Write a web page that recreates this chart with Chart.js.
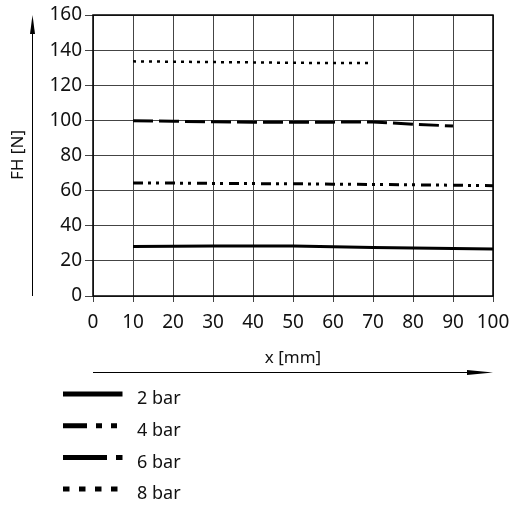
<!DOCTYPE html>
<html>
<head>
<meta charset="utf-8">
<script src="https://cdn.jsdelivr.net/npm/chart.js@4.4.0/dist/chart.umd.min.js"></script>
<style>
  html, body { margin: 0; padding: 0; background: #fff; }
  #wrap { width: 516px; height: 507px; position: relative; }
</style>
</head>
<body>
<div id="wrap"><canvas id="chart" width="516" height="507"></canvas></div>
<script>
// Data
const xValues = [10, 20, 30, 40, 50, 60, 70, 80, 90, 100];
const bar2 = [28.2, 28.3, 28.4, 28.4, 28.4, 28.0, 27.6, 27.3, 27.0, 26.7];
const bar4 = [64.4, 64.3, 64.1, 64.0, 63.9, 63.7, 63.5, 63.3, 63.1, 62.8];
const bar6 = [99.8, 99.5, 99.2, 99.0, 98.9, 99.0, 99.1, 97.8, 96.8];
const bar8 = [133.6, 133.4, 133.2, 133.0, 132.8, 132.6, 132.6];
const seriesLabels = ['2 bar', '4 bar', '6 bar', '8 bar'];
const xTitle = 'x [mm]';
const yTitle = 'FH [N]';

const FONT = "'Noto Sans', sans-serif";

function toPoints(values) {
  return values.map((v, i) => ({ x: xValues[i], y: v }));
}

// line styles per series (chart + legend)
const styles = [
  { dash: [], width: 3, legendDash: [] },
  { dash: [10, 5, 3, 5, 3, 6], width: 3, legendDash: [24, 9, 6, 9, 6, 30] },
  { dash: [20, 6], width: 3, legendDash: [44, 9, 7, 30] },
  { dash: [3, 5], width: 2.5, legendDash: [6.5, 9.5] }
];

// frame, arrows, titles and legend
const decorPlugin = {
  id: 'decor',
  afterDraw(chart) {
    const ctx = chart.ctx;
    const a = chart.chartArea;
    ctx.save();

    // frame
    ctx.strokeStyle = '#000';
    ctx.lineWidth = 1.5;
    ctx.strokeRect(a.left, a.top, a.right - a.left, a.bottom - a.top);

    // vertical arrow
    ctx.lineWidth = 1;
    ctx.beginPath();
    ctx.moveTo(32.5, a.bottom);
    ctx.lineTo(32.5, 28);
    ctx.stroke();
    ctx.fillStyle = '#000';
    ctx.beginPath();
    ctx.moveTo(32.5, 15);
    ctx.lineTo(30, 34);
    ctx.lineTo(35, 34);
    ctx.closePath();
    ctx.fill();

    // horizontal arrow
    ctx.beginPath();
    ctx.moveTo(a.left, 372.5);
    ctx.lineTo(480, 372.5);
    ctx.stroke();
    ctx.beginPath();
    ctx.moveTo(493, 372.5);
    ctx.lineTo(467, 370);
    ctx.lineTo(467, 375);
    ctx.closePath();
    ctx.fill();

    // axis titles
    ctx.fillStyle = '#111';
    ctx.font = '17px ' + FONT;
    ctx.textAlign = 'center';
    ctx.textBaseline = 'middle';
    ctx.fillText(xTitle, 293, 358);
    ctx.save();
    ctx.translate(18, 155);
    ctx.rotate(-Math.PI / 2);
    ctx.fillText(yTitle, 0, 0);
    ctx.restore();

    // legend
    ctx.textAlign = 'left';
    ctx.font = '18px ' + FONT;
    seriesLabels.forEach((label, i) => {
      const y = 394 + i * 31.7;
      const st = styles[i];
      ctx.strokeStyle = '#000';
      ctx.lineWidth = 5;
      ctx.lineCap = 'butt';
      ctx.setLineDash(st.legendDash);
      ctx.beginPath();
      ctx.moveTo(63, y);
      ctx.lineTo(122.5, y);
      ctx.stroke();
      ctx.setLineDash([]);
      ctx.fillText(label, 137, y + 5);
    });

    ctx.restore();
  }
};

const ctx = document.getElementById('chart').getContext('2d');
const allSeries = [bar2, bar4, bar6, bar8];

// keep chart area fixed regardless of label overflow
function fixPadding(scale) {
  scale.paddingLeft = 0;
  scale.paddingRight = 0;
  scale.paddingTop = 0;
  scale.paddingBottom = 0;
}

new Chart(ctx, {
  type: 'line',
  data: {
    datasets: allSeries.map((vals, i) => ({
      label: seriesLabels[i],
      data: toPoints(vals),
      borderColor: '#000',
      borderWidth: styles[i].width,
      borderDash: styles[i].dash,
      pointRadius: 0,
      fill: false,
      tension: 0
    }))
  },
  options: {
    responsive: false,
    animation: false,
    layout: { padding: { left: 0, top: 15, right: 23, bottom: 171 } },
    plugins: {
      legend: { display: false },
      tooltip: { enabled: false }
    },
    scales: {
      x: {
        type: 'linear',
        min: 0,
        max: 100,
        afterFit(scale) { scale.height = 40; fixPadding(scale); },
        border: { display: false },
        grid: { color: '#444', lineWidth: 1, tickLength: 6 },
        ticks: {
          stepSize: 10,
          color: '#111',
          padding: 9,
          font: { family: FONT, size: 19 }
        }
      },
      y: {
        min: 0,
        max: 160,
        afterFit(scale) { scale.width = 93; fixPadding(scale); },
        border: { display: false },
        grid: { color: '#444', lineWidth: 1, tickLength: 8 },
        ticks: {
          stepSize: 20,
          color: '#111',
          padding: 3,
          font: { family: FONT, size: 19 }
        }
      }
    }
  },
  plugins: [decorPlugin]
});
</script>
</body>
</html>
